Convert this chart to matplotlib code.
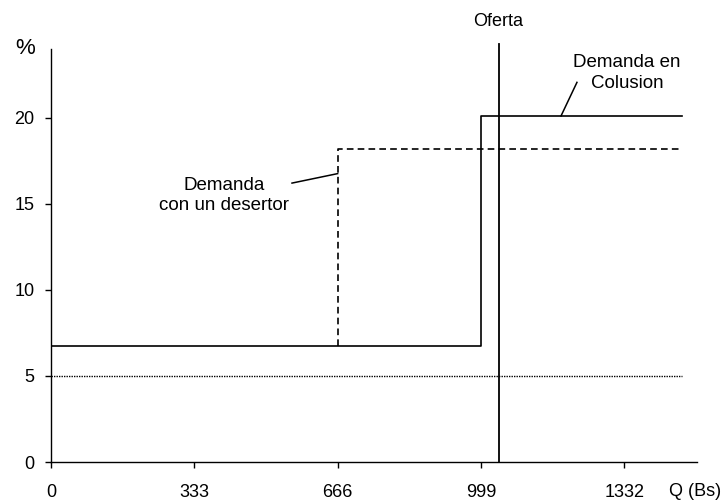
import matplotlib.pyplot as plt

plt.rcParams['font.family'] = ['Liberation Sans', 'DejaVu Sans']

# datos de las curvas (Q en Bs, tasa en %)
q_colusion = [0, 999, 999, 1465]
r_colusion = [6.75, 6.75, 20.1, 20.1]
q_desertor = [666, 666, 1465]
r_desertor = [6.75, 18.2, 18.2]
q_oferta = [1040, 1040]
r_oferta = [0, 24.3]
q_piso = [0, 1465]
r_piso = [5, 5]
xticks = [0, 333, 666, 999, 1332]
yticks = [0, 5, 10, 15, 20]

fig = plt.figure(figsize=(7.23, 5.03), dpi=100)
ax = fig.add_axes([0.0705, 0.0815, 0.893, 0.8215])

ax.plot(q_colusion, r_colusion, color='black', lw=1.2)
ax.plot(q_desertor, r_desertor, color='black', lw=1.2, ls=(0, (4, 2.5)))
ax.plot(q_oferta, r_oferta, color='black', lw=1.3, clip_on=False)
ax.plot(q_piso, r_piso, color='black', lw=1.0, ls=(0, (1, 0.8)))

ax.set_xlim(0, 1500)
ax.set_ylim(0, 24)
ax.set_xticks(xticks)
ax.set_yticks(yticks)
ax.tick_params(labelsize=13, length=4, width=1, pad=12)
ax.tick_params(axis='y', pad=8)
for s in ['top', 'right']:
    ax.spines[s].set_visible(False)
for s in ['left', 'bottom']:
    ax.spines[s].set_linewidth(1)

# textos
ax.text(1040, 25.6, 'Oferta', ha='center', va='center', fontsize=13)
fig.text(0.035, 0.903, '%', ha='center', va='center', fontsize=16)
fig.text(0.962, 0.022, 'Q (Bs)', ha='center', va='center', fontsize=13)

ax.text(1338, 22.6, 'Demanda en\nColusion', ha='center', va='center',
        fontsize=13.5, linespacing=1.25)
ax.plot([1185, 1222], [20.1, 22.05], color='black', lw=1.1)

ax.text(403, 15.5, 'Demanda\ncon un desertor', ha='center', va='center',
        fontsize=13.5, linespacing=1.25)
ax.plot([560, 666], [16.2, 16.75], color='black', lw=1.1)

fig.savefig('out.png', dpi=100)
